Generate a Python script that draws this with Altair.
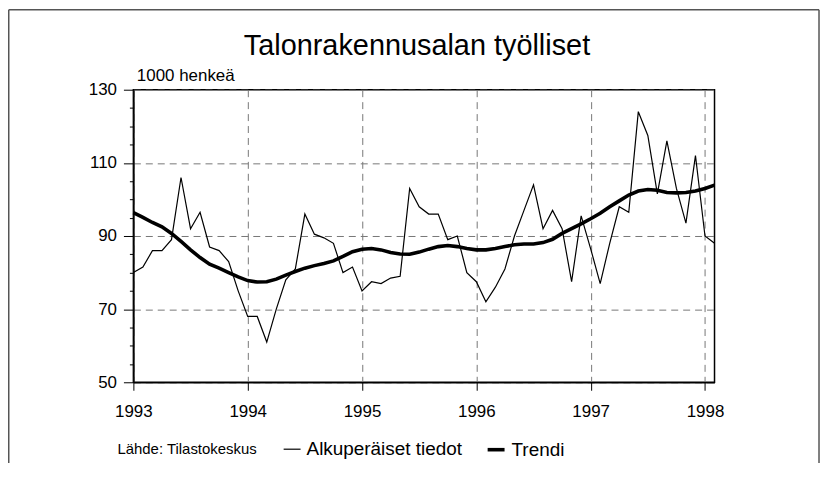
import altair as alt
import pandas as pd

FONT = "Liberation Sans"

chart_title = "Talonrakennusalan työlliset"
unit_label = "1000 henkeä"
source_label = "Lähde: Tilastokeskus"
series_names = ["Alkuperäiset tiedot", "Trendi"]
year_ticks = [1993, 1994, 1995, 1996, 1997, 1998]
y_ticks = list(range(50, 131, 5))
start_year = 1993

# monthly values, Jan 1993 - Feb 1998 (1000 persons)
raw_values = [
    80, 81.5, 86, 86, 89, 106, 92, 96.5, 87, 86, 83, 75,          # 1993
    68, 68, 61, 70, 78, 81, 96, 90.5, 89.5, 88, 80, 81.5,         # 1994
    75, 77.5, 77, 78.5, 79, 103, 98, 96, 96, 89, 90, 80,          # 1995
    77.5, 72, 76, 81, 90, 97, 104, 92, 97, 92, 77.5, 95.5,        # 1996
    86.5, 77, 88, 98, 96.5, 124, 117.5, 101.5, 116, 103, 93.5, 112,  # 1997
    90, 88,                                                        # 1998
]
trend_values = [
    96.4, 95.1, 93.7, 92.5, 90.7, 88.5, 86.2, 84.1, 82.3, 81.2, 80.0, 78.8,
    77.8, 77.4, 77.5, 78.2, 79.3, 80.3, 81.2, 81.9, 82.5, 83.2, 84.4, 85.7,
    86.4, 86.6, 86.2, 85.5, 85.1, 85.0, 85.6, 86.4, 87.1, 87.4, 87.1, 86.6,
    86.2, 86.2, 86.6, 87.1, 87.6, 87.8, 87.8, 88.2, 89.1, 90.7, 92.0, 93.3,
    94.7, 96.2, 98.0, 99.6, 101.2, 102.3, 102.7, 102.5, 101.9, 101.8, 101.9, 102.3,
    103.0, 103.9,
]

n = len(raw_values)
t = [start_year + i / 12 for i in range(n)]
df = pd.DataFrame({
    "t": t + t,
    "value": raw_values + trend_values,
    "series": [series_names[0]] * n + [series_names[1]] * n,
})

major = "datum.value % 20 == 10"

x_enc = alt.X(
    "t:Q",
    scale=alt.Scale(domain=[1993, 1998 + 1 / 12], nice=False, zero=False),
    axis=alt.Axis(
        values=year_ticks, format="d", title=None,
        grid=True, gridDash=[7, 5], gridColor="#777", gridWidth=1,
        labelFont=FONT, labelFontSize=17, labelColor="black", labelFlush=False,
        labelPadding=13, tickSize=8, tickColor="black", tickWidth=1,
        domainColor="black", domainWidth=1.5,
    ),
)
y_enc = alt.Y(
    "value:Q",
    scale=alt.Scale(domain=[50, 130], nice=False, zero=False),
    axis=alt.Axis(
        values=y_ticks,
        title=unit_label, titleAngle=0, titleX=3, titleY=-9, titleAlign="left",
        titleBaseline="alphabetic", titleFont=FONT, titleFontSize=17,
        titleFontWeight="normal", titleColor="black",
        labelExpr=f"{major} ? datum.label : ''",
        labelFont=FONT, labelFontSize=17, labelColor="black", labelPadding=7,
        tickSize={"condition": {"test": major, "value": 10}, "value": 4},
        tickColor="black", tickWidth=1,
        grid=True, gridDash=[7, 5], gridColor="#777", gridWidth=1,
        gridOpacity={"condition": {"test": major, "value": 1}, "value": 0},
        domainColor="black", domainWidth=1.5,
    ),
)

lines = alt.Chart(df).mark_line(color="black", strokeJoin="miter").encode(
    x=x_enc,
    y=y_enc,
    strokeWidth=alt.StrokeWidth(
        "series:N",
        scale=alt.Scale(domain=series_names, range=[1.2, 3.6]),
        legend=alt.Legend(
            title=source_label, orient="none", legendX=-16, legendY=351,
            direction="horizontal", titleOrient="left",
            titleFont=FONT, titleFontSize=15, titleFontWeight="normal",
            titleColor="black", titlePadding=25, titleBaseline="middle",
            labelFont=FONT, labelFontSize=19, labelColor="black",
            labelLimit=400, labelOffset=5, columnPadding=17,
            symbolType="stroke", symbolSize=289, symbolStrokeColor="black",
        ),
    ),
)

frame_data = alt.Data(values=[{"k": 0}])
frame_style = dict(color="#555", strokeWidth=1.5)
frame_left = alt.Chart(frame_data).mark_rule(**frame_style).encode(
    x=alt.value(-125.25), y=alt.value(-80.25), y2=alt.value(400))
frame_top = alt.Chart(frame_data).mark_rule(**frame_style).encode(
    x=alt.value(-125.25), x2=alt.value(689), y=alt.value(-80.25))
frame_right = alt.Chart(frame_data).mark_rule(**frame_style).encode(
    x=alt.value(689), y=alt.value(-80.25), y2=alt.value(400))

chart = alt.layer(lines, frame_left, frame_top, frame_right).properties(
    width=584,
    height=294,
    autosize=alt.AutoSizeParams(type="none"),
    padding={"left": 126, "top": 81, "right": 106, "bottom": 80},
    title=alt.TitleParams(
        chart_title, font=FONT, fontSize=29, fontWeight="normal",
        color="black", anchor="middle", dx=-7, offset=0, dy=75,
        baseline="alphabetic",
    ),
).configure_view(stroke="black", strokeWidth=1.5)

chart.save("out.html", embed_options={"renderer": "svg", "actions": False})
